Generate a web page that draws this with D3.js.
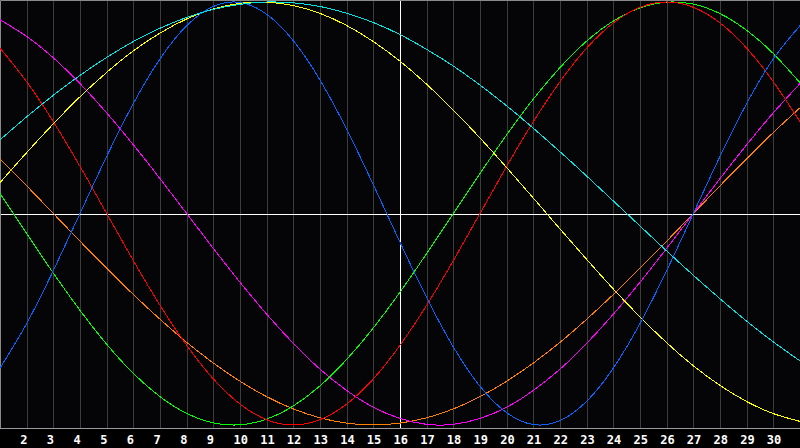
<!DOCTYPE html>
<html>
<head>
<meta charset="utf-8">
<script src="https://cdn.jsdelivr.net/npm/d3@7"></script>
<style>
  html, body { margin: 0; padding: 0; background: #000; }
  #chart { width: 800px; height: 448px; }
</style>
</head>
<body>
<div id="chart"></div>
<script>
// days shown along the bottom (1..31), labels only for 2..30
var days = d3.range(1, 32);
var dayLabels = d3.range(2, 31);

// curve values per day (-1 .. 1)
var blueValues = [-0.731, -0.520, -0.270, 0, 0.270, 0.520, 0.731, 0.888, 0.979, 0.998, 0.942, 0.817, 0.631, 0.398, 0.136, -0.136, -0.398, -0.631, -0.817, -0.942, -0.998, -0.979, -0.888, -0.731, -0.520, -0.270, 0, 0.270, 0.520, 0.731, 0.888];
var redValues = [0.782, 0.623, 0.434, 0.223, 0, -0.223, -0.434, -0.623, -0.782, -0.901, -0.975, -1, -0.975, -0.901, -0.782, -0.623, -0.434, -0.223, 0, 0.223, 0.434, 0.623, 0.782, 0.901, 0.975, 1, 0.975, 0.901, 0.782, 0.623, 0.434];
var greenValues = [0.095, -0.095, -0.282, -0.458, -0.618, -0.756, -0.866, -0.945, -0.990, -0.999, -0.972, -0.910, -0.815, -0.690, -0.541, -0.372, -0.189, 0, 0.189, 0.372, 0.541, 0.690, 0.815, 0.910, 0.972, 0.999, 0.990, 0.945, 0.866, 0.756, 0.618];
var magentaValues = [0.916, 0.837, 0.736, 0.614, 0.476, 0.325, 0.165, 0, -0.165, -0.325, -0.476, -0.614, -0.736, -0.837, -0.916, -0.969, -0.997, -0.997, -0.969, -0.916, -0.837, -0.736, -0.614, -0.476, -0.325, -0.165, 0, 0.165, 0.325, 0.476, 0.614];
var orangeValues = [0.259, 0.131, 0, -0.131, -0.259, -0.383, -0.5, -0.609, -0.707, -0.793, -0.866, -0.924, -0.966, -0.991, -1, -0.991, -0.966, -0.924, -0.866, -0.793, -0.707, -0.609, -0.5, -0.383, -0.259, -0.131, 0, 0.131, 0.259, 0.383, 0.5];
var yellowValues = [0.146, 0.288, 0.424, 0.552, 0.667, 0.769, 0.853, 0.920, 0.967, 0.994, 0.999, 0.983, 0.946, 0.889, 0.813, 0.720, 0.611, 0.489, 0.357, 0.217, 0.073, -0.073, -0.217, -0.357, -0.489, -0.611, -0.720, -0.813, -0.889, -0.946, -0.983];
var cyanValues = [0.348, 0.457, 0.559, 0.653, 0.738, 0.813, 0.876, 0.927, 0.965, 0.989, 1.000, 0.996, 0.979, 0.947, 0.903, 0.846, 0.776, 0.697, 0.607, 0.509, 0.403, 0.292, 0.177, 0.059, -0.059, -0.177, -0.292, -0.403, -0.509, -0.607, -0.697];

var series = [
  {values: orangeValues, color: "#ff8000"},
  {values: magentaValues, color: "#ff00ff"},
  {values: greenValues, color: "#00ff00"},
  {values: redValues, color: "#ff0000"},
  {values: yellowValues, color: "#ffff00"},
  {values: blueValues, color: "#0066ff"},
  {values: cyanValues, color: "#00e5e5"}
];

var outerWidth = 800, outerHeight = 448;
var plotHeight = 428;

var svg = d3.select("#chart")
  .append("svg")
  .attr("width", outerWidth)
  .attr("height", outerHeight);

svg.append("rect")
  .attr("width", outerWidth)
  .attr("height", outerHeight)
  .attr("fill", "#000");

svg.append("rect")
  .attr("width", outerWidth)
  .attr("height", plotHeight)
  .attr("fill", "#050508");

//scales
var xScale = d3.scaleLinear().domain([1, 31]).range([0, outerWidth]);
var yScale = d3.scaleLinear().domain([-1, 1]).range([425, 2]);

//vertical day lines
svg.selectAll(".dayline")
  .data(dayLabels)
  .enter()
  .append("line")
  .attr("class", "dayline")
  .attr("x1", function(d){ return Math.round(xScale(d)) + 0.5; })
  .attr("x2", function(d){ return Math.round(xScale(d)) + 0.5; })
  .attr("y1", 0)
  .attr("y2", plotHeight)
  .attr("stroke", function(d){ return d === 16 ? "#ffffff" : "#3c3c3c"; })
  .attr("stroke-width", 1);

//zero line
var zeroY = Math.round(yScale(0)) + 0.5;
svg.append("line")
  .attr("x1", 0).attr("x2", outerWidth)
  .attr("y1", zeroY).attr("y2", zeroY)
  .attr("stroke", "#ffffff");

//border
svg.append("path")
  .attr("d", "M0.5," + (plotHeight + 0.5) + "V0.5H" + outerWidth)
  .attr("fill", "none")
  .attr("stroke", "#8a8a8a");
svg.append("line")
  .attr("x1", 0).attr("x2", outerWidth)
  .attr("y1", plotHeight + 0.5).attr("y2", plotHeight + 0.5)
  .attr("stroke", "#9a9a9a");

//curves
var line = d3.line()
  .x(function(d, i){ return xScale(days[i]); })
  .y(function(d){ return yScale(d); })
  .curve(d3.curveNatural);

svg.selectAll(".curve")
  .data(series)
  .enter()
  .append("path")
  .attr("class", "curve")
  .attr("fill", "none")
  .attr("stroke", function(d){ return d.color; })
  .attr("stroke-width", 1)
  .attr("shape-rendering", "crispEdges")
  .attr("d", function(d){ return line(d.values); });

//day labels, left aligned a little before each day line
var xAxis = d3.axisBottom(xScale)
  .tickValues(dayLabels)
  .tickSize(0)
  .tickPadding(0);

var axisG = svg.append("g")
  .attr("transform", "translate(-7," + (plotHeight + 15.5) + ")")
  .call(xAxis);

axisG.select(".domain").remove();
axisG.selectAll("text")
  .attr("dy", "0")
  .attr("text-anchor", "start")
  .attr("fill", "#fff")
  .style("font-family", "'DejaVu Sans Mono', monospace")
  .style("font-weight", "bold")
  .style("font-size", "12px");
</script>
</body>
</html>
